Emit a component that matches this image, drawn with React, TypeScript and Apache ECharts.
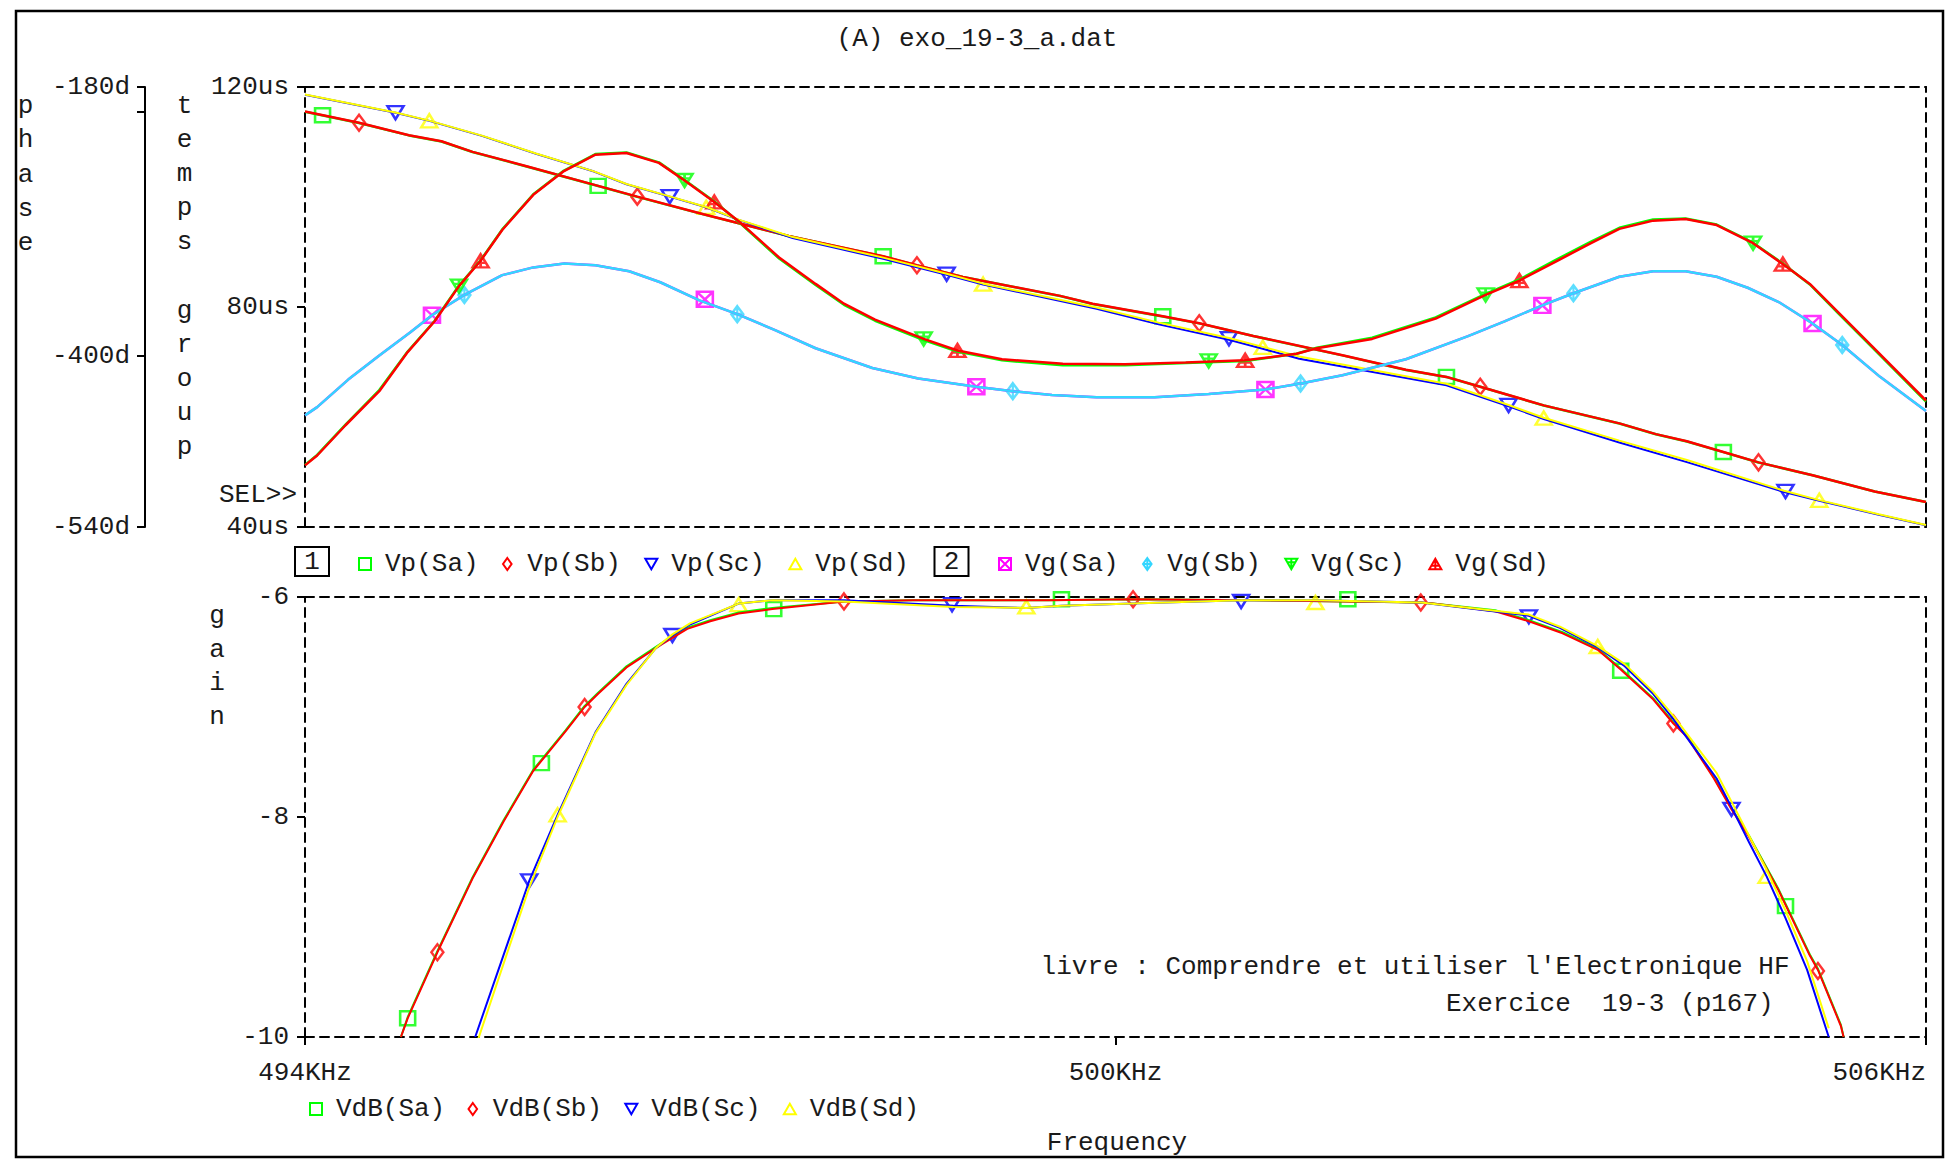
import React, { useEffect, useRef } from 'react';
import * as echarts from 'echarts';

const FONT = '"Liberation Mono", "DejaVu Sans Mono", monospace';
const FS = 26;
const TXT = '#1a1a1a';

// ---------- frequencies / values (kHz) ----------
// Phase (degrees)
const vpSbF = [494.0, 494.4, 494.77, 495.01, 495.24, 495.64, 496.17, 496.46, 496.95, 497.58, 498.28, 498.53, 498.87, 499.59, 499.83, 500.35, 500.62, 501.02, 501.68, 502.15, 502.45, 502.7, 503.17, 503.73, 504.0, 504.23, 504.5, 504.76, 505.16, 505.62, 506.0];
const vpSbV = [-200.1, -209.2, -219.5, -224.4, -233.1, -244.8, -260.9, -269.7, -284.1, -301.8, -318.5, -325.9, -335.4, -350.9, -357.4, -367.6, -373.3, -383.7, -399.5, -411.4, -417.2, -425.2, -440.5, -455.2, -464.0, -469.9, -478.6, -487.1, -497.6, -510.9, -519.5];
const vpSaV = [-200.3, -209.4, -219.6, -224.6, -233.2, -245.0, -261.0, -269.9, -284.2, -301.9, -318.6, -326.0, -335.5, -351.0, -357.5, -367.8, -373.4, -383.8, -399.6, -411.5, -417.3, -425.3, -440.6, -455.3, -464.1, -470.0, -478.7, -487.2, -497.7, -511.0, -519.6];

const vpScF = [494.0, 494.67, 494.92, 495.31, 495.71, 496.14, 496.38, 496.7, 496.97, 497.21, 497.61, 498.28, 498.75, 499.02, 499.86, 500.32, 500.84, 501.09, 501.36, 502.45, 502.91, 503.17, 503.73, 504.23, 504.95, 505.21, 505.65, 506.0];
const vpScV = [-186.4, -201.0, -207.7, -220.0, -234.6, -249.2, -259.6, -269.7, -278.4, -288.7, -303.5, -320.6, -333.6, -341.6, -361.4, -374.2, -386.8, -394.2, -402.4, -424.0, -441.2, -451.6, -470.8, -486.9, -511.4, -518.6, -529.9, -538.6];
const vpSdV = [-186.2, -200.8, -207.5, -219.8, -234.4, -249.0, -259.4, -269.5, -278.2, -288.5, -302.8, -319.6, -332.8, -340.9, -360.4, -372.8, -385.4, -392.6, -400.5, -422.8, -440.2, -450.6, -469.3, -485.2, -510.4, -518.0, -529.5, -538.4];

// Group delay (us)
const vgCDF = [494.0, 494.09, 494.3, 494.55, 494.76, 494.96, 495.14, 495.3, 495.46, 495.69, 495.91, 496.15, 496.38, 496.62, 496.81, 497.03, 497.21, 497.51, 497.78, 497.99, 498.22, 498.58, 498.83, 499.16, 499.61, 500.07, 500.52, 500.96, 501.34, 501.49, 501.9, 502.37, 502.74, 502.99, 503.27, 503.52, 503.73, 503.98, 504.22, 504.45, 504.72, 504.94, 505.14, 505.36, 505.6, 506.0];
const vgSdV = [51.2, 53.0, 58.5, 64.7, 71.8, 77.4, 83.8, 88.4, 94.0, 100.4, 104.6, 107.7, 108.0, 106.2, 103.0, 99.1, 95.6, 89.0, 84.2, 80.6, 77.7, 74.2, 72.1, 70.5, 69.7, 69.6, 69.9, 70.3, 71.5, 72.5, 74.2, 77.9, 82.2, 84.8, 88.4, 91.6, 94.2, 95.7, 96.0, 94.9, 91.6, 87.8, 84.2, 78.8, 72.9, 63.0];
const vgScV = [51.3, 53.1, 58.6, 64.9, 71.9, 77.5, 83.9, 88.5, 94.1, 100.5, 104.7, 107.8, 108.1, 106.3, 103.1, 99.2, 95.5, 88.8, 84.0, 80.4, 77.5, 74.0, 71.9, 70.3, 69.4, 69.4, 69.8, 70.2, 71.5, 72.6, 74.4, 78.1, 82.4, 85.0, 88.7, 91.9, 94.4, 95.9, 96.1, 95.0, 91.7, 87.9, 84.1, 78.6, 72.7, 62.8];

const vgABF = [494.0, 494.09, 494.32, 494.55, 494.78, 494.94, 495.18, 495.46, 495.69, 495.92, 496.15, 496.4, 496.63, 496.92, 497.2, 497.48, 497.78, 498.2, 498.54, 498.97, 499.24, 499.53, 499.86, 500.29, 500.69, 501.11, 501.37, 501.68, 502.15, 502.61, 502.88, 503.16, 503.39, 503.73, 503.98, 504.22, 504.45, 504.68, 504.91, 505.16, 505.38, 505.66, 506.0];
const vgSbV = [60.3, 61.8, 66.8, 71.2, 75.4, 78.5, 82.2, 85.8, 87.2, 87.9, 87.6, 86.5, 84.5, 81.2, 78.7, 75.8, 72.5, 68.9, 67.0, 65.5, 64.7, 64.0, 63.6, 63.6, 64.2, 65.0, 66.1, 67.6, 70.5, 74.7, 77.4, 80.3, 82.5, 85.5, 86.5, 86.5, 85.5, 83.5, 80.9, 77.0, 73.1, 67.3, 61.1];
const vgSaV = [60.3, 61.8, 66.8, 71.2, 75.4, 78.5, 82.2, 85.8, 87.2, 87.9, 87.6, 86.5, 84.5, 81.2, 78.7, 75.8, 72.5, 68.9, 67.0, 65.5, 64.7, 64.0, 63.6, 63.6, 64.2, 65.0, 66.1, 67.6, 70.5, 74.7, 77.4, 80.3, 82.5, 85.5, 86.5, 86.5, 85.5, 83.5, 80.9, 77.0, 73.1, 67.3, 61.1];

// Gain (dB)
const dbABF = [494.71, 494.76, 494.98, 495.24, 495.47, 495.69, 495.93, 496.07, 496.17, 496.38, 496.64, 496.83, 497.0, 497.21, 497.46, 497.99, 498.5, 499.5, 500.13, 501.03, 502.26, 502.35, 502.81, 503.06, 503.31, 503.57, 503.74, 503.98, 504.13, 504.23, 504.43, 504.56, 504.69, 504.91, 505.14, 505.2, 505.37, 505.39];
const dbSbV = [-10, -9.83, -9.23, -8.56, -8.04, -7.58, -7.22, -7.0, -6.88, -6.64, -6.43, -6.29, -6.22, -6.15, -6.11, -6.04, -6.03, -6.03, -6.02, -6.03, -6.05, -6.06, -6.13, -6.22, -6.33, -6.48, -6.66, -6.93, -7.15, -7.27, -7.65, -7.93, -8.18, -8.67, -9.26, -9.39, -9.9, -10];
const dbSaV = [-10, -9.82, -9.22, -8.55, -8.03, -7.57, -7.21, -6.99, -6.87, -6.63, -6.42, -6.28, -6.21, -6.14, -6.1, -6.04, -6.03, -6.03, -6.02, -6.03, -6.05, -6.06, -6.12, -6.21, -6.32, -6.47, -6.65, -6.92, -7.14, -7.26, -7.64, -7.92, -8.17, -8.66, -9.25, -9.38, -9.89, -10];

const dbCDF = [495.26, 495.66, 495.87, 496.15, 496.38, 496.6, 496.72, 496.85, 497.21, 497.46, 497.99, 498.8, 499.34, 499.6, 500.12, 500.93, 501.48, 502.26, 503.06, 503.29, 503.56, 503.77, 503.98, 504.13, 504.45, 504.56, 504.69, 504.82, 504.96, 505.12, 505.28];
const dbScV = [-10, -8.58, -7.98, -7.23, -6.79, -6.46, -6.35, -6.25, -6.06, -6.03, -6.03, -6.08, -6.1, -6.08, -6.06, -6.03, -6.03, -6.05, -6.17, -6.28, -6.45, -6.63, -6.88, -7.11, -7.65, -7.91, -8.23, -8.54, -8.92, -9.39, -10];
const dbSdV = [-10.1, -8.64, -8.0, -7.24, -6.8, -6.46, -6.34, -6.24, -6.06, -6.03, -6.04, -6.09, -6.1, -6.08, -6.06, -6.03, -6.03, -6.05, -6.16, -6.27, -6.44, -6.61, -6.86, -7.08, -7.6, -7.86, -8.17, -8.48, -8.85, -9.31, -9.92];

// ---------- marker points [kHz, value] ----------
const mkVpSa = [[494.13, -203.1], [496.17, -260.9], [498.28, -318.5], [500.35, -367.6], [502.45, -417.2], [504.5, -478.6]];
const mkVpSb = [[494.4, -209.2], [496.46, -269.7], [498.53, -325.9], [500.62, -373.3], [502.7, -425.2], [504.76, -487.1]];
const mkVpSc = [[494.67, -201.0], [496.7, -269.7], [498.75, -333.2], [500.84, -385.9], [502.91, -440.5], [504.96, -510.9]];
const mkVpSd = [[494.92, -207.7], [496.97, -278.4], [499.02, -341.3], [501.09, -393.0], [503.17, -450.9], [505.21, -518.2]];
const mkVgSa = [[494.94, 78.5], [496.96, 81.4], [498.97, 65.5], [501.11, 65.0], [503.16, 80.3], [505.16, 77.0]];
const mkVgSb = [[495.18, 82.2], [497.2, 78.7], [499.24, 64.7], [501.37, 66.1], [503.39, 82.5], [505.38, 73.1]];
const mkVgSc = [[495.14, 83.8], [496.81, 103.0], [498.58, 74.2], [500.69, 70.2], [502.74, 82.2], [504.72, 91.6]];
const mkVgSd = [[495.3, 88.4], [497.03, 99.1], [498.83, 72.1], [500.96, 70.3], [502.99, 84.8], [504.94, 87.8]];
const mkDbSa = [[494.76, -9.83], [495.75, -7.51], [497.47, -6.11], [499.6, -6.02], [501.72, -6.02], [503.74, -6.67], [504.96, -8.81]];
const mkDbSb = [[494.98, -9.23], [496.07, -7.0], [497.99, -6.04], [500.13, -6.02], [502.26, -6.05], [504.13, -7.15], [505.2, -9.4]];
const mkDbSc = [[495.66, -8.58], [496.72, -6.35], [498.79, -6.07], [500.93, -6.04], [503.06, -6.18], [504.56, -7.93]];
const mkDbSd = [[495.87, -7.98], [497.21, -6.07], [499.34, -6.09], [501.48, -6.05], [503.57, -6.45], [504.82, -8.54]];

// ---------- axis ticks ----------
const freqMin = 494;
const freqMax = 506;
const freqStep = 6;
const delayTicks = { min: 40, max: 120, step: 40 };
const phaseLabels = [-540, -400, -180];
const phaseTicks = [-540, -400, -200, -180];
const gainTicks = { min: -10, max: -6, step: 2 };

// ---------- colours / symbols ----------
const GREEN = '#00ff00';
const RED = '#ff0000';
const BLUE = '#0000ff';
const YELLOW = '#ffff00';
const MAGENTA = '#ff00ff';
const CYAN = '#33d6ff';

const S_SQ = 'path://M0,0L14,0L14,14L0,14Z';
const S_DIA = 'path://M5,0L10,7L5,14L0,7Z';
const S_DOWN = 'path://M0,0L14,0L7,12Z';
const S_UP = 'path://M7,0L14,12L0,12Z';
const S_SQX = 'path://M0,0L14,0L14,14L0,14ZM0,0L14,14M14,0L0,14';
const S_DIAP = 'path://M5,0L10,7L5,14L0,7ZM5,0L5,14M0,7L10,7';
const S_DOWNB = 'path://M0,0L14,0L7,12ZM7,0L7,12M2,4L12,4';
const S_UPB = 'path://M7,0L14,12L0,12ZM7,0L7,12M2,8L12,8';

const pairs = (xs: number[], ys: number[]) => xs.map((x, i) => [x, ys[i]]);

function line(name: string, xi: number, yi: number, xs: number[], ys: number[], color: string, width: number) {
  return {
    type: 'line', name, xAxisIndex: xi, yAxisIndex: yi, data: pairs(xs, ys),
    showSymbol: false, symbol: 'none', silent: true, clip: true,
    lineStyle: { color, width }, itemStyle: { color },
    emphasis: { disabled: true },
  };
}
function marks(name: string, xi: number, yi: number, pts: number[][], color: string, symbol: string, size: number[]) {
  return {
    type: 'scatter', name, xAxisIndex: xi, yAxisIndex: yi, data: pts,
    symbol, symbolSize: size, silent: true, clip: true,
    itemStyle: { color: 'rgba(0,0,0,0)', borderColor: color, borderWidth: 2.5 },
    emphasis: { disabled: true },
  };
}
const legendItem = (name: string, icon: string, color: string) => ({
  name, icon, itemStyle: { color: 'rgba(0,0,0,0)', borderColor: color, borderWidth: 2 },
});

const dashed = { show: true, onZero: false, lineStyle: { color: '#000', width: 2, type: [9, 6] } };
const labelStyle = { fontFamily: FONT, fontSize: FS, color: TXT };
const legendText = { fontFamily: FONT, fontSize: FS, color: TXT, lineHeight: 26, padding: [0, 0, 0, 9] };

const GRID_LEFT = 305;
const GRID_W = 1621;
const txt = (text: string, x: number, y: number, align = 'left', valign = 'middle', extra: any = {}) => ({
  type: 'text', x, y, silent: true,
  style: { text, font: `${FS}px ${FONT}`, fill: TXT, textAlign: align, textVerticalAlign: valign, ...extra },
});

const option: any = {
  animation: false,
  backgroundColor: '#fff',
  title: {
    text: '(A) exo_19-3_a.dat', left: 'center', top: 21,
    textStyle: { fontFamily: FONT, fontSize: FS, fontWeight: 'normal', color: TXT },
  },
  grid: [
    { left: GRID_LEFT, top: 87, width: GRID_W, height: 440 },
    { left: GRID_LEFT, top: 597, width: GRID_W, height: 440 },
  ],
  xAxis: [
    { type: 'value', gridIndex: 0, position: 'bottom', min: freqMin, max: freqMax, axisLine: dashed, axisTick: { show: false }, axisLabel: { show: false }, splitLine: { show: false } },
    { type: 'value', gridIndex: 0, position: 'top', min: freqMin, max: freqMax, axisLine: dashed, axisTick: { show: false }, axisLabel: { show: false }, splitLine: { show: false } },
    {
      type: 'value', gridIndex: 1, position: 'bottom', min: freqMin, max: freqMax, interval: freqStep,
      axisLine: dashed, axisTick: { show: true, length: 8, lineStyle: { color: '#000', width: 2 } },
      axisLabel: { ...labelStyle, margin: 23, formatter: (v: number) => `${v}KHz`, showMinLabel: true, showMaxLabel: true, alignMaxLabel: 'right' },
      splitLine: { show: false },
    },
    { type: 'value', gridIndex: 1, position: 'top', min: freqMin, max: freqMax, axisLine: dashed, axisTick: { show: false }, axisLabel: { show: false }, splitLine: { show: false } },
  ],
  yAxis: [
    {
      type: 'value', gridIndex: 0, position: 'left', min: delayTicks.min, max: delayTicks.max, interval: delayTicks.step,
      axisLine: dashed, axisTick: { show: true, length: 8, lineStyle: { color: '#000', width: 2 } },
      axisLabel: { ...labelStyle, margin: 16, padding: [7, 0, 0, 0], formatter: (v: number) => `${v}us` }, splitLine: { show: false },
    },
    {
      type: 'value', gridIndex: 0, position: 'left', offset: 160, min: -540, max: -180,
      axisLine: { show: true, onZero: false, lineStyle: { color: '#000', width: 2 } },
      axisTick: { show: true, length: 8, customValues: phaseTicks, lineStyle: { color: '#000', width: 2 } },
      axisLabel: { ...labelStyle, margin: 15, padding: [7, 0, 0, 0], customValues: phaseLabels, formatter: (v: number) => `${v}d` },
      splitLine: { show: false },
    },
    { type: 'value', gridIndex: 0, position: 'right', min: 0, max: 1, axisLine: dashed, axisTick: { show: false }, axisLabel: { show: false }, splitLine: { show: false } },
    {
      type: 'value', gridIndex: 1, position: 'left', min: gainTicks.min, max: gainTicks.max, interval: gainTicks.step,
      axisLine: dashed, axisTick: { show: true, length: 8, lineStyle: { color: '#000', width: 2 } },
      axisLabel: { ...labelStyle, margin: 16, padding: [5, 0, 0, 0] }, splitLine: { show: false },
    },
    { type: 'value', gridIndex: 1, position: 'right', min: 0, max: 1, axisLine: dashed, axisTick: { show: false }, axisLabel: { show: false }, splitLine: { show: false } },
  ],
  legend: [
    {
      left: 358, top: 551, orient: 'horizontal', padding: 0, itemWidth: 12, itemHeight: 12, itemGap: 23.4,
      selectedMode: false, textStyle: legendText,
      data: [legendItem('Vp(Sa)', S_SQ, GREEN), legendItem('Vp(Sb)', S_DIA, RED), legendItem('Vp(Sc)', S_DOWN, BLUE), legendItem('Vp(Sd)', S_UP, YELLOW)],
    },
    {
      left: 998, top: 551, orient: 'horizontal', padding: 0, itemWidth: 12, itemHeight: 12, itemGap: 23.4,
      selectedMode: false, textStyle: legendText,
      data: [legendItem('Vg(Sa)', S_SQX, MAGENTA), legendItem('Vg(Sb)', S_DIAP, CYAN), legendItem('Vg(Sc)', S_DOWNB, GREEN), legendItem('Vg(Sd)', S_UPB, RED)],
    },
    {
      left: 309, top: 1096, orient: 'horizontal', padding: 0, itemWidth: 12, itemHeight: 12, itemGap: 22.3,
      selectedMode: false, textStyle: legendText,
      data: [legendItem('VdB(Sa)', S_SQ, GREEN), legendItem('VdB(Sb)', S_DIA, RED), legendItem('VdB(Sc)', S_DOWN, BLUE), legendItem('VdB(Sd)', S_UP, YELLOW)],
    },
  ],
  series: [
    line('Vp(Sa)', 0, 1, vpSbF, vpSaV, GREEN, 2.5),
    marks('Vp(Sa)', 0, 1, mkVpSa, GREEN, S_SQ, [15, 14]),
    line('Vp(Sb)', 0, 1, vpSbF, vpSbV, RED, 2.5),
    marks('Vp(Sb)', 0, 1, mkVpSb, RED, S_DIA, [12, 16]),
    line('Vp(Sc)', 0, 1, vpScF, vpScV, BLUE, 2),
    marks('Vp(Sc)', 0, 1, mkVpSc, BLUE, S_DOWN, [16, 13]),
    line('Vp(Sd)', 0, 1, vpScF, vpSdV, YELLOW, 2),
    marks('Vp(Sd)', 0, 1, mkVpSd, YELLOW, S_UP, [16, 13]),

    line('Vg(Sa)', 0, 0, vgABF, vgSaV, MAGENTA, 2.5),
    marks('Vg(Sa)', 0, 0, mkVgSa, MAGENTA, S_SQX, [16, 15]),
    line('Vg(Sb)', 0, 0, vgABF, vgSbV, CYAN, 2.5),
    marks('Vg(Sb)', 0, 0, mkVgSb, CYAN, S_DIAP, [12, 16]),
    line('Vg(Sc)', 0, 0, vgCDF, vgScV, GREEN, 2.5),
    marks('Vg(Sc)', 0, 0, mkVgSc, GREEN, S_DOWNB, [16, 13]),
    line('Vg(Sd)', 0, 0, vgCDF, vgSdV, RED, 2.5),
    marks('Vg(Sd)', 0, 0, mkVgSd, RED, S_UPB, [16, 13]),

    line('VdB(Sa)', 2, 3, dbABF, dbSaV, GREEN, 2),
    marks('VdB(Sa)', 2, 3, mkDbSa, GREEN, S_SQ, [15, 14]),
    line('VdB(Sb)', 2, 3, dbABF, dbSbV, RED, 2),
    marks('VdB(Sb)', 2, 3, mkDbSb, RED, S_DIA, [12, 16]),
    line('VdB(Sc)', 2, 3, dbCDF, dbScV, BLUE, 2),
    marks('VdB(Sc)', 2, 3, mkDbSc, BLUE, S_DOWN, [16, 13]),
    line('VdB(Sd)', 2, 3, dbCDF, dbSdV, YELLOW, 2),
    marks('VdB(Sd)', 2, 3, mkDbSd, YELLOW, S_UP, [16, 13]),
  ],
  graphic: [
    { type: 'rect', silent: true, shape: { x: 16, y: 11, width: 1927, height: 1146 }, style: { fill: 'none', stroke: '#000', lineWidth: 2.5 } },
    { type: 'rect', silent: true, shape: { x: 295, y: 547, width: 34, height: 29 }, style: { fill: 'none', stroke: '#000', lineWidth: 2 } },
    txt('1', 312, 562, 'center'),
    { type: 'rect', silent: true, shape: { x: 934.5, y: 547, width: 34, height: 29 }, style: { fill: 'none', stroke: '#000', lineWidth: 2 } },
    txt('2', 951.5, 562, 'center'),
    txt('SEL>>', 219, 494.5),
    txt('p\nh\na\ns\ne', 25.5, 89, 'center', 'top', { lineHeight: 34.3 }),
    txt('t\ne\nm\np\ns\n\ng\nr\no\nu\np', 184.5, 89, 'center', 'top', { lineHeight: 34.1 }),
    txt('g\na\ni\nn', 217, 599, 'center', 'top', { lineHeight: 33.7 }),
    txt("livre : Comprendre et utiliser l'Electronique HF", 1040.6, 966.5),
    txt('Exercice  19-3 (p167)', 1446, 1004),
    txt('Frequency', 1117, 1142.7, 'center'),
  ],
};

export default function App() {
  const ref = useRef<HTMLDivElement>(null);
  useEffect(() => {
    if (!ref.current) return;
    const chart = echarts.init(ref.current, null, { renderer: 'svg' });
    chart.setOption(option);
    return () => chart.dispose();
  }, []);
  return (
    <div
      ref={ref}
      style={{ position: 'fixed', left: 0, top: 0, width: 1954, height: 1165, background: '#fff' }}
    />
  );
}
